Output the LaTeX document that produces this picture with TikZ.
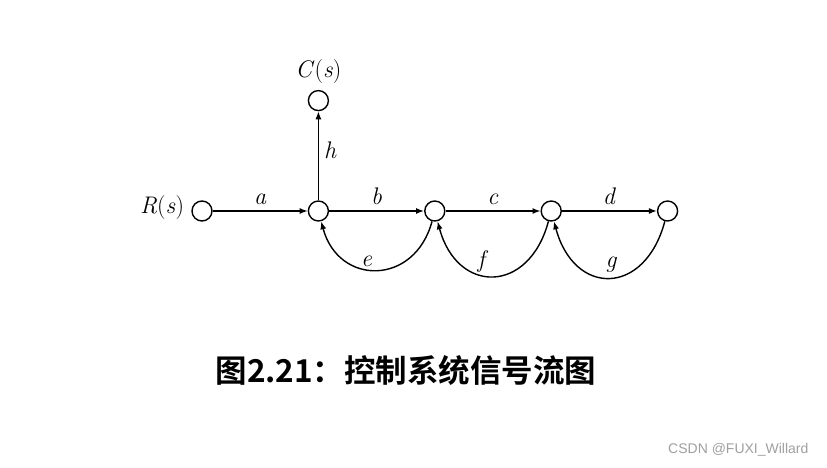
\documentclass[tikz,border=0pt]{standalone}
\usepackage{fontspec}
\setsansfont{Liberation Sans}
\newfontfamily\cjk[BoldFont={Noto Sans CJK SC Bold}]{Noto Sans CJK SC}
\usetikzlibrary{arrows.meta,positioning}
\tikzset{
  sig/.style={circle, draw, line width=1.4pt, minimum size=20pt, inner sep=0pt},
  branch/.style={-{Latex[length=8pt,width=6pt]}, line width=1.4pt},
  loopback/.style={branch, out=-105, in=-75},
  gain/.style={font=\fontsize{24}{28}\selectfont, inner sep=2pt,
               text height=0.75em, text depth=0.25em}
}

\begin{document}
\begin{tikzpicture}[x=1pt,y=1pt,node distance=95pt]
  \useasboundingbox (0,0) rectangle (827,468);

  \node[sig] (rin) at (202,257) {};
  \node[sig, right=of rin] (x1) {};
  \node[sig, right=of x1] (x2) {};
  \node[sig, right=of x2] (x3) {};
  \node[sig, right=of x3] (x4) {};
  \node[sig, above=89pt of x1] (cout) {};

  \node[gain, left=5pt of rin] (rlabel) {\textit{R}(\textit{s})};
  \node[gain, above=8pt of cout] (clabel) {\textit{C}(\textit{s})};

  \draw[branch] (rin) -- node[gain, above=1pt] {\textit{a}} (x1);
  \draw[branch] (x1) -- node[gain, above=1pt] {\textit{b}} (x2);
  \draw[branch] (x2) -- node[gain, above=1pt] {\textit{c}} (x3);
  \draw[branch] (x3) -- node[gain, above=1pt] {\textit{d}} (x4);
  \draw[branch] (x1) -- node[gain, right=3pt] {\textit{h}} (cout);

  \draw[loopback, looseness=1.55] (x2) to node[gain, above=-2pt, xshift=-10pt] {\textit{e}} (x1);
  \draw[loopback, looseness=1.75] (x3) to node[gain, above=3pt, xshift=-10pt] {\textit{f}} (x2);
  \draw[loopback, looseness=1.8] (x4) to node[gain, above=5pt, xshift=2pt] {\textit{g}} (x3);

  \node[font=\cjk\bfseries\fontsize{31.5}{36}\selectfont] (title) at (406,98) {图2.21：控制系统信号流图};
  \node[font=\sffamily\fontsize{14}{16}\selectfont, text=gray!75, anchor=east] (mark) at (812,18) {CSDN @FUXI\_Willard};
\end{tikzpicture}
\end{document}
